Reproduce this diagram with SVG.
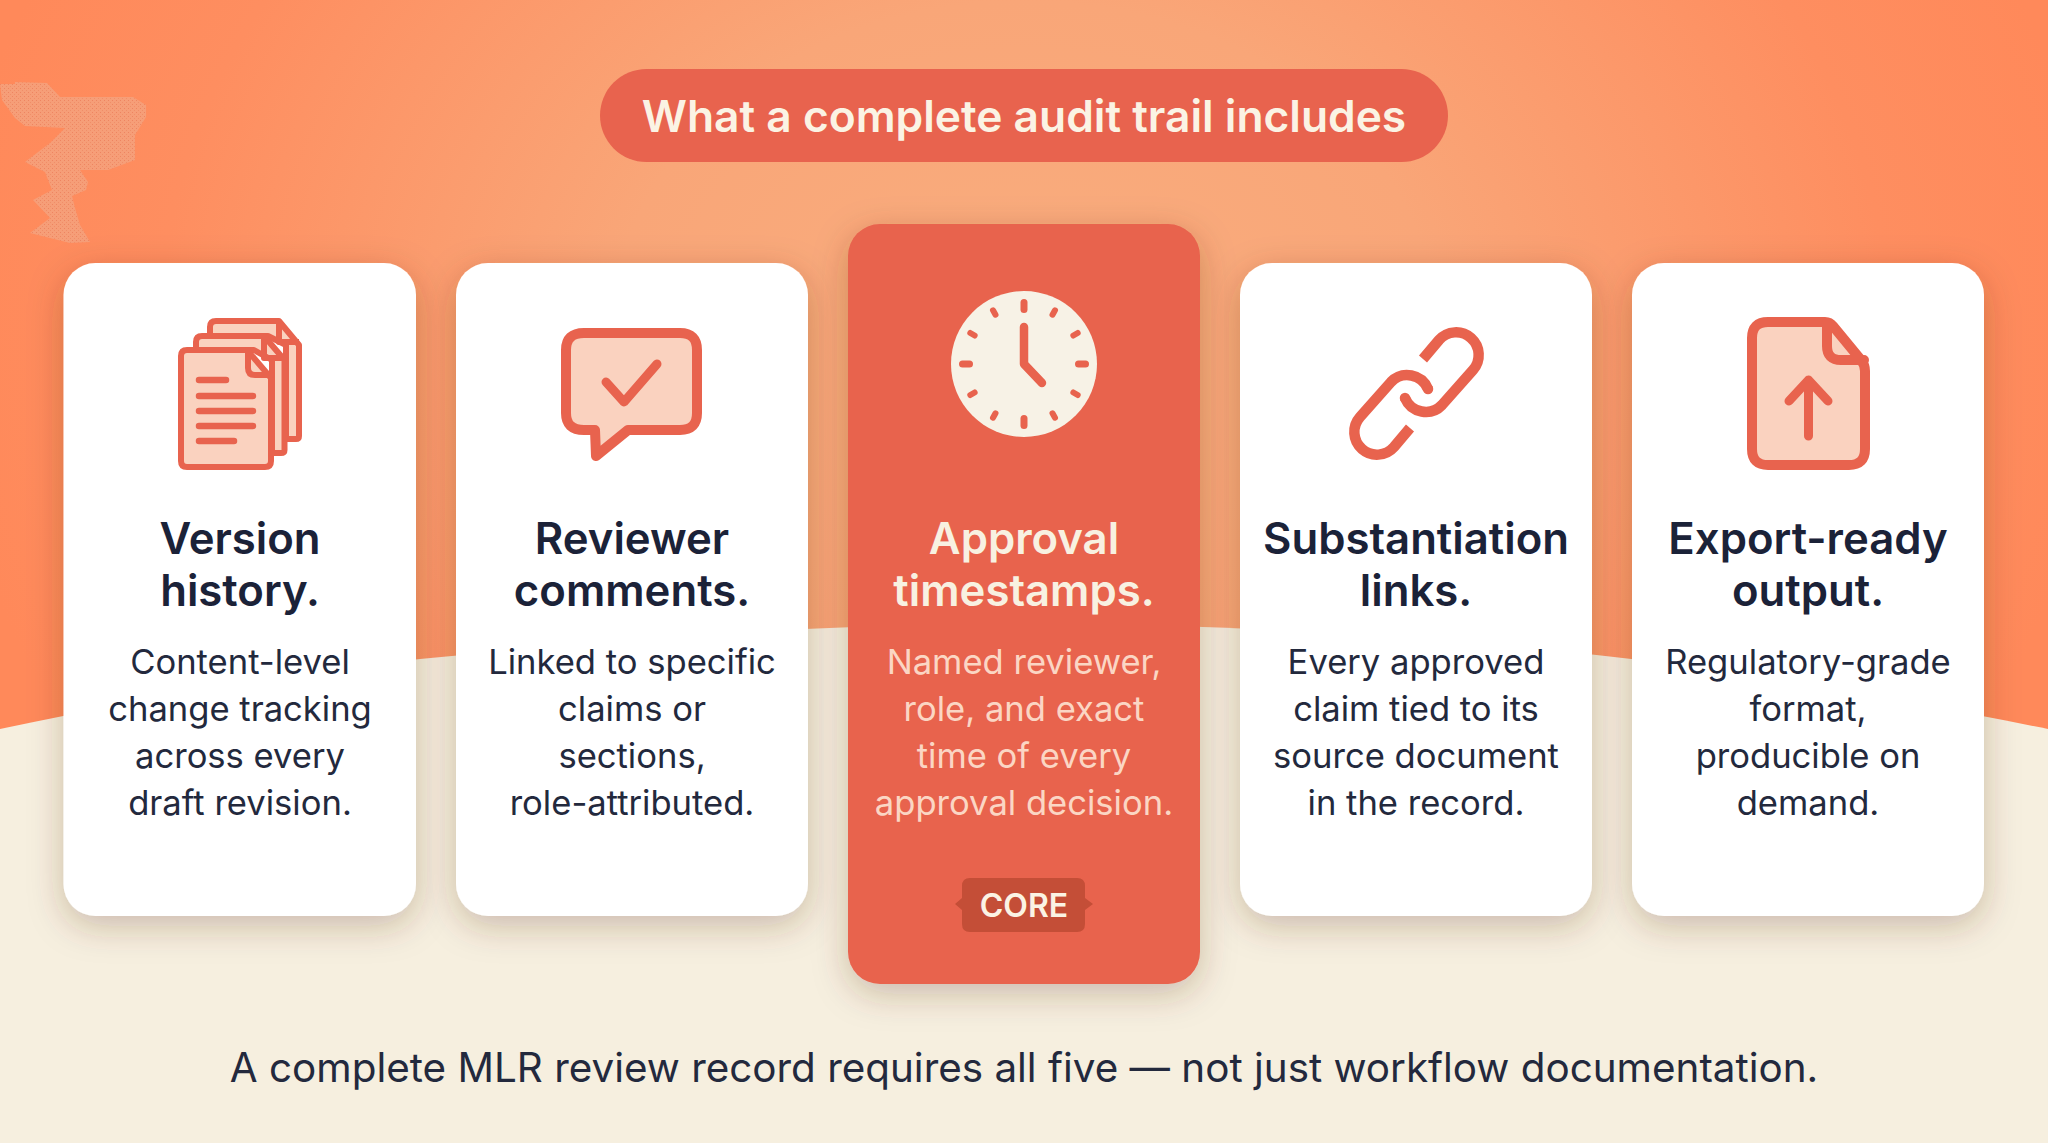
<svg xmlns="http://www.w3.org/2000/svg" xmlns:xlink="http://www.w3.org/1999/xlink" width="2048" height="1143" viewBox="0 0 2048 1143">
<defs>
<radialGradient id="bg" gradientUnits="userSpaceOnUse" cx="1024" cy="330" r="1080" gradientTransform="translate(1024 330) scale(1 .8) translate(-1024 -330)">
<stop offset="0" stop-color="#F9AD7E"/><stop offset=".38" stop-color="#F9A678"/><stop offset=".8" stop-color="#FE8E60"/><stop offset="1" stop-color="#FF895A"/>
</radialGradient>
<pattern id="dither" width="4" height="4" patternUnits="userSpaceOnUse"><rect width="4" height="4" fill="#F69E78"/><rect width="1" height="1" fill="#EE8460"/><rect x="2" y="2" width="1" height="1" fill="#F08E68"/></pattern>
<filter id="shadow" x="-25%" y="-12%" width="150%" height="130%"><feDropShadow dx="0" dy="10" stdDeviation="17" flood-color="#5A3418" flood-opacity=".27"/></filter>
<rect id="major" x="1020.500" y="299" width="7" height="14" rx="3.500"/>
<rect id="minor" x="1021" y="299" width="6" height="11" rx="3"/>
</defs>
<style>
text{font-family:Inter,"Liberation Sans",sans-serif;text-anchor:middle}
.card{fill:#FFFFFF;filter:url(#shadow)}
.core{fill:#E8634E;filter:url(#shadow)}
.h{font-size:43.700px;font-weight:600;fill:#1B2238}
.b{font-size:34.600px;font-weight:400;fill:#23293D}
.hc{fill:#F8F1E1}
.bc{fill:#FBD6C4}
.i{fill:#FAD2BF;stroke:#E8634E;stroke-width:10;stroke-linejoin:round;stroke-linecap:round}
.s{fill:#FAD2BF;stroke:#E8634E;stroke-width:6;stroke-linejoin:round;stroke-linecap:round}
.l{fill:none;stroke:#E8634E;stroke-width:7;stroke-linecap:round;stroke-linejoin:round}
.lk{fill:none;stroke:#E8634E;stroke-width:10.500}
</style>
<rect width="2048" height="1143" fill="url(#bg)"/>
<polygon points="0,84 15,84 15,82 47,83 60,97 133,97 146,105 146,117 135,135 135,160 108,170 80,170 88,182 86,190 72,196 75,208 80,225 90,242 70,243 50,238 30,233 50,218 33,200 52,190 45,172 25,162 50,143 65,128 25,126 15,118 2,100" fill="url(#dither)"/>
<path d="M0 729C140 700 270 676 420 659C620 640 800 624 1024 624C1240 624 1460 638 1640 660C1800 682 1930 705 2048 729V1143H0Z" fill="#F6EFDF"/>
<g id="title"><rect x="600" y="69" width="848" height="93" rx="46.500" fill="#E8634E"/><text x="1024" y="132" font-size="44.300" font-weight="600" fill="#FBF3E4">What a complete audit trail includes</text></g>
<g id="card-version"><rect class="card" x="63.500" y="263" width="352.500" height="653" rx="32"/>
<path class="s" d="M210 327Q210 321 216 321H279L299 345V436Q299 439 296 439H286V345L268 336H210Z"/>
<path class="s" d="M196 342Q196 336 202 336H264L284.500 360V450Q284.500 453 281 453H272V360L254 350H196Z"/>
<path d="M279 321V342H299M264 336V358H284" fill="none" stroke="#E8634E" stroke-width="6" stroke-linejoin="round"/>
<path class="s" d="M181 356Q181 350 187 350H247L271 378V461Q271 467 265 467H187Q181 467 181 461Z"/>
<path class="l" d="M248 350V368Q248 375 255 375H271" style="stroke-width:6"/>
<path class="l" d="M199 380H226M199 396H253M199 411H253M199 426H253M199 441H234" style="stroke-width:6.500"/>
<text class="h" x="240" y="554">Version</text><text class="h" x="240" y="606">history.</text>
<text class="b" x="240" y="674">Content-level</text><text class="b" x="240" y="721">change tracking</text><text class="b" x="240" y="768">across every</text><text class="b" x="240" y="815">draft revision.</text></g>
<g id="card-reviewer"><rect class="card" x="456" y="263" width="352" height="653" rx="32"/>
<path class="i" d="M584 333H680Q697 333 697 350V413Q697 430 680 430H628L596 456L595 430H584Q566 430 566 413V350Q566 333 584 333Z"/>
<path class="l" d="M606 382L624 402L657 364" style="stroke-width:9"/>
<text class="h" x="632" y="554">Reviewer</text><text class="h" x="632" y="606">comments.</text>
<text class="b" x="632" y="674">Linked to specific</text><text class="b" x="632" y="721">claims or</text><text class="b" x="632" y="768">sections,</text><text class="b" x="632" y="815">role-attributed.</text></g>
<g id="card-approval"><rect class="core" x="848" y="224" width="352" height="760" rx="32"/>
<circle cx="1024" cy="364" r="73" fill="#F7F2E6"/>
<g fill="#E8634E"><use xlink:href="#major"/><use xlink:href="#major" transform="rotate(90 1024 364)"/><use xlink:href="#major" transform="rotate(180 1024 364)"/><use xlink:href="#major" transform="rotate(270 1024 364)"/>
<use xlink:href="#minor" transform="rotate(30 1024 364)"/><use xlink:href="#minor" transform="rotate(60 1024 364)"/><use xlink:href="#minor" transform="rotate(120 1024 364)"/><use xlink:href="#minor" transform="rotate(150 1024 364)"/><use xlink:href="#minor" transform="rotate(210 1024 364)"/><use xlink:href="#minor" transform="rotate(240 1024 364)"/><use xlink:href="#minor" transform="rotate(300 1024 364)"/><use xlink:href="#minor" transform="rotate(330 1024 364)"/></g>
<path class="l" d="M1024 327V364L1042 383" style="stroke-width:8.500"/>
<text class="h hc" x="1024" y="554">Approval</text><text class="h hc" x="1024" y="606">timestamps.</text>
<text class="b bc" x="1024" y="674">Named reviewer,</text><text class="b bc" x="1024" y="721">role, and exact</text><text class="b bc" x="1024" y="768">time of every</text><text class="b bc" x="1024" y="815">approval decision.</text>
<path d="M970 878H1077Q1085 878 1085 886V898L1093 904L1085 910V924Q1085 932 1077 932H970Q962 932 962 924V910L955 904L962 898V886Q962 878 970 878Z" fill="#C44E37"/>
<text x="1024" y="917" font-size="32" font-weight="600" fill="#FBF3E4">CORE</text></g>
<g id="card-substantiation"><rect class="card" x="1240" y="263" width="352" height="653" rx="32"/>
<path class="lk" d="M1423 359L1439 340A22.500 22.500 0 0 1 1473 370L1442 405A22.500 22.500 0 0 1 1405 398"/><circle cx="1405" cy="398" r="5.250" fill="#E8634E"/>
<path class="lk" d="M1423 359L1439 340A22.500 22.500 0 0 1 1473 370L1442 405A22.500 22.500 0 0 1 1405 398" transform="rotate(180 1416.500 393.500)"/><circle cx="1428" cy="389" r="5.250" fill="#E8634E"/>
<text class="h" x="1416" y="554">Substantiation</text><text class="h" x="1416" y="606">links.</text>
<text class="b" x="1416" y="674">Every approved</text><text class="b" x="1416" y="721">claim tied to its</text><text class="b" x="1416" y="768">source document</text><text class="b" x="1416" y="815">in the record.</text></g>
<g id="card-export"><rect class="card" x="1632" y="263" width="352" height="653" rx="32"/>
<path class="i" d="M1768 322H1825Q1830 322 1833 326L1861 360Q1865 365 1865 371V449Q1865 465 1849 465H1768Q1752 465 1752 449V338Q1752 322 1768 322Z"/>
<path class="l" d="M1827 323V346Q1827 360 1841 360H1864" style="stroke-width:10;fill:none"/>
<path class="l" d="M1808.500 436V380M1789 401L1808.500 380L1828 401" style="stroke-width:9"/>
<text class="h" x="1808" y="554">Export-ready</text><text class="h" x="1808" y="606">output.</text>
<text class="b" x="1808" y="674">Regulatory-grade</text><text class="b" x="1808" y="721">format,</text><text class="b" x="1808" y="768">producible on</text><text class="b" x="1808" y="815">demand.</text></g>
<g id="footer"><text x="1024" y="1082" font-size="40.400" font-weight="400" fill="#23293D">A complete MLR review record requires all five — not just workflow documentation.</text></g>
<g id="connectors"/>
</svg>
